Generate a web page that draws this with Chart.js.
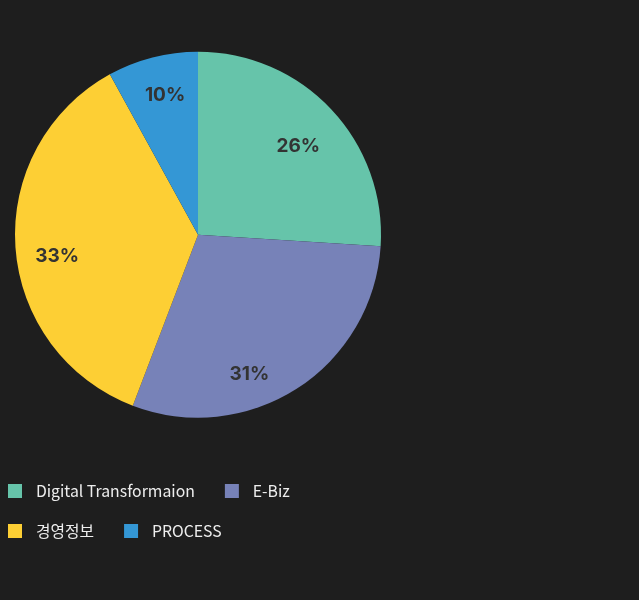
<!DOCTYPE html>
<html>
<head>
<meta charset="utf-8">
<script src="https://cdn.jsdelivr.net/npm/chart.js@4/dist/chart.umd.min.js"></script>
<style>
  html, body { margin: 0; padding: 0; background: #1e1e1e; width: 639px; height: 600px; overflow: hidden; }
  #wrap { position: absolute; left: -22px; top: 0; width: 440px; height: 549px; }
</style>
</head>
<body>
<div id="wrap"><canvas id="c"></canvas></div>
<script>
// ---- data ----
const categories = ['Digital Transformaion', 'E-Biz', '경영정보', 'PROCESS'];
const shares = [26.0, 29.8, 36.2, 8.0];
const sliceLabels = ['26%', '31%', '33%', '10%'];
const sliceColors = ['#66c4aa', '#7782b8', '#fdcf34', '#3497d5'];

// label placement (style options)
const labelAngleShiftDeg = [1.5, 12.4, -4.5, 1.2];
const labelRadiusFrac = [0.734, 0.806, 0.778, 0.789];

function legendSwatch(color) {
  const cv = document.createElement('canvas');
  cv.width = 26; cv.height = 14;
  const g = cv.getContext('2d');
  g.fillStyle = color;
  g.fillRect(6, 0, 14, 14);
  return cv;
}
const swatches = sliceColors.map(legendSwatch);

const sliceLabelPlugin = {
  id: 'sliceLabels',
  afterDatasetsDraw(chart) {
    const ctx = chart.ctx;
    const meta = chart.getDatasetMeta(0);
    ctx.save();
    ctx.font = '700 19px Inter';
    ctx.fillStyle = '#333333';
    ctx.textAlign = 'center';
    ctx.textBaseline = 'middle';
    meta.data.forEach((arc, i) => {
      const p = arc.getProps(['x', 'y', 'startAngle', 'endAngle', 'outerRadius'], true);
      const mid = (p.startAngle + p.endAngle) / 2 + labelAngleShiftDeg[i] * Math.PI / 180;
      const r = p.outerRadius * labelRadiusFrac[i];
      ctx.fillText(sliceLabels[i], p.x + Math.cos(mid) * r, p.y + Math.sin(mid) * r + 1);
    });
    ctx.restore();
  }
};

new Chart(document.getElementById('c'), {
  type: 'pie',
  data: {
    labels: categories,
    datasets: [{
      data: shares,
      backgroundColor: sliceColors,
      borderWidth: 0,
      radius: 183
    }]
  },
  options: {
    responsive: true,
    maintainAspectRatio: false,
    animation: false,
    layout: { padding: { top: 10, left: 0, right: 0, bottom: 0 } },
    plugins: {
      tooltip: { enabled: false },
      legend: {
        position: 'bottom',
        align: 'start',
        labels: {
          usePointStyle: true,
          pointStyleWidth: 26,
          boxHeight: 14,
          padding: 24,
          color: '#eeeeee',
          font: { family: '"Noto Sans CJK KR", "Noto Sans", sans-serif', size: 15.8, weight: '400' },
          generateLabels(chart) {
            return categories.map((t, i) => ({
              text: t,
              fillStyle: sliceColors[i],
              strokeStyle: sliceColors[i],
              lineWidth: 0,
              pointStyle: swatches[i],
              fontColor: '#eeeeee',
              hidden: false,
              index: i
            }));
          }
        }
      }
    }
  },
  plugins: [sliceLabelPlugin]
});
</script>
</body>
</html>
